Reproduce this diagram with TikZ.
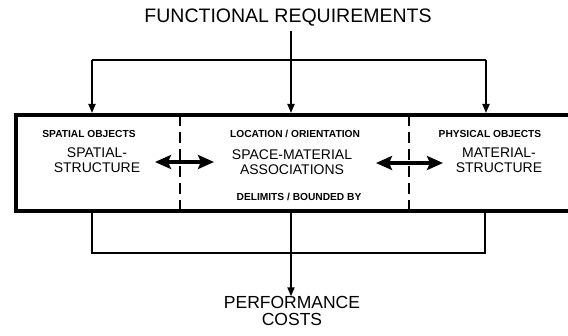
\documentclass[tikz,border=0pt]{standalone}
\usepackage{fontspec}
\setmainfont{Liberation Sans}
\usetikzlibrary{arrows.meta}
\begin{document}
\begin{tikzpicture}[x=1pt,y=-1pt,
  conn/.style={line width=1.7pt},
  connarrow/.style={line width=1.7pt,-{Triangle[length=9pt,width=7pt]}},
  frame/.style={line width=4.5pt},
  divider/.style={line width=1.8pt,dash pattern=on 11pt off 6pt},
  twoway/.style={line width=3.2pt,{Stealth[length=16pt,width=14pt,inset=3pt]}-{Stealth[length=16pt,width=14pt,inset=3pt]}},
  bigtitle/.style={font=\fontsize{19.5}{21}\selectfont,inner sep=0pt},
  mainlabel/.style={font=\fontsize{14}{15}\selectfont,align=center,inner sep=0pt},
  sublabel/.style={font=\bfseries\fontsize{10.2}{12}\selectfont,inner sep=0pt},
  costlabel/.style={font=\fontsize{17.5}{16.5}\selectfont,align=center,inner sep=0pt}]
\useasboundingbox (0,0) rectangle (568,336);

% outer frame, open past the right edge
\coordinate (tl) at (16,115);
\coordinate (bl) at (16,211);
\draw[frame] (575,115) -- (tl) -- (bl) -- (575,211);

% dashed dividers between the three parts
\coordinate (d1t) at (180,115); \coordinate (d1b) at (180,211);
\coordinate (d2t) at (409,115); \coordinate (d2b) at (409,211);
\draw[divider] (d1t) -- (d1b);
\draw[divider] (d2t) -- (d2b);

% headings
\node[bigtitle] (fr) at (288,18) {FUNCTIONAL REQUIREMENTS};
\node[costlabel] (pc) at (292,311) {PERFORMANCE\\COSTS};

% left part
\node[sublabel] (so) at (89,134) {SPATIAL OBJECTS};
\node[mainlabel] (ss) at (97,160) {SPATIAL-\\STRUCTURE};
% middle part
\node[sublabel] (lo) at (295,134) {LOCATION / ORIENTATION};
\node[mainlabel] (sm) at (292,162) {SPACE-MATERIAL\\ASSOCIATIONS};
\node[sublabel] (db) at (299,197) {DELIMITS / BOUNDED BY};
% right part
\node[sublabel] (po) at (490,134) {PHYSICAL OBJECTS};
\node[mainlabel] (ms) at (499,160) {MATERIAL-\\STRUCTURE};

% two-way links across the dividers
\coordinate (a1l) at (155,162); \coordinate (a1r) at (214,162);
\coordinate (a2l) at (376,163); \coordinate (a2r) at (443,163);
\draw[twoway] (a1l) -- (a1r);
\draw[twoway] (a2l) -- (a2r);

% requirements fan out into the frame
\coordinate (ts) at (291,31);
\coordinate (tj) at (291,60);
\coordinate (tlj) at (92,60);
\coordinate (trj) at (486,60);
\coordinate (e1) at (92,113);
\coordinate (e2) at (291,113);
\coordinate (e3) at (486,113);
\draw[conn] (e1 |- tlj) -- (trj);
\draw[connarrow] (ts) -- (e2);
\draw[connarrow] (tlj) -- (e1);
\draw[connarrow] (trj) -- (e3);

% frame output gathers into costs
\coordinate (b1) at (92,213);
\coordinate (b2) at (291,213);
\coordinate (b3) at (485,213);
\coordinate (h1) at (92,253);
\coordinate (h3) at (485,253);
\draw[conn] (b1) -- (h1) -- (h3) -- (b3);
\draw[connarrow] (b2) -- (b2 |- pc.north);
\end{tikzpicture}
\end{document}
